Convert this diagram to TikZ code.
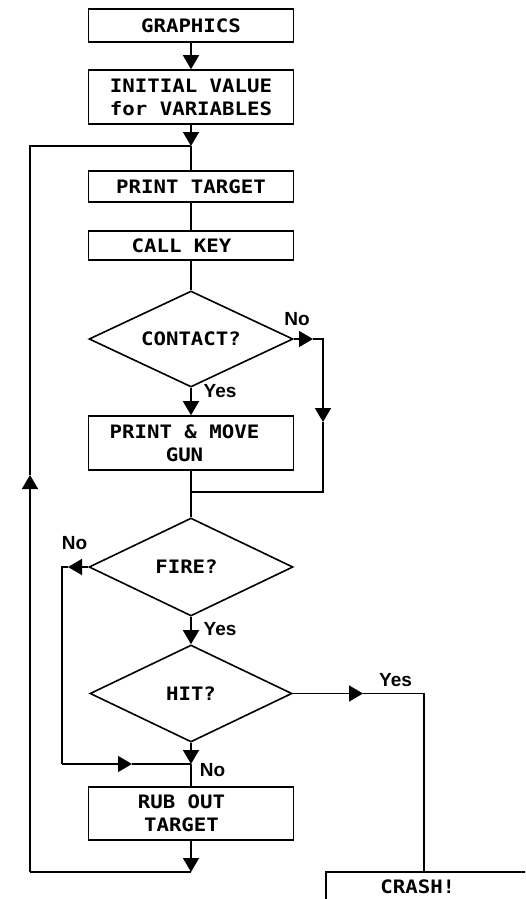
\documentclass[tikz,border=0pt]{standalone}
\usepackage{fontspec}
\usetikzlibrary{shapes.geometric, arrows.meta}
\newfontfamily\boxfont{DejaVu Sans Mono}[FakeStretch=1.12]
\newfontfamily\tagfont{Liberation Sans}
\newcommand\boxtext{\boxfont\bfseries\fontsize{18.5pt}{23pt}\selectfont}
\newcommand\tagtext{\tagfont\bfseries\fontsize{19pt}{22pt}\selectfont}

\tikzset{
  stepbox/.style={draw, rectangle, minimum width=205pt, inner sep=0pt,
                  font=\boxtext, align=center},
  choice/.style={draw, diamond, inner sep=0pt, aspect=2.1, font=\boxtext},
  tag/.style={inner sep=0pt, font=\tagtext},
}

\begin{document}
\begin{tikzpicture}[x=1pt, y=-1pt, line width=1.6pt,
    >={Triangle[width=16pt,length=14pt]}]
  \useasboundingbox (0,0) rectangle (525,899);
  \clip (0,0) rectangle (525,899);

  % main column
  \node[stepbox, minimum height=33pt] (graphics) at (191,25.5) {GRAPHICS};
  \node[stepbox, minimum height=54pt] (init) at (191,97) {INITIAL VALUE\\for VARIABLES};
  \coordinate (loopin) at (191,146);
  \node[stepbox, minimum height=31pt] (target) at (191,186.5) {PRINT TARGET};
  \node[stepbox, minimum height=29pt] (key) at (191,245.5) {CALL KEY\hspace*{19pt}};
  \node[choice, minimum width=204pt, minimum height=96pt] (contact) at (191,339) {CONTACT?};
  \node[stepbox, minimum height=54pt] (gun) at (191,443) {PRINT \& MOVE\hspace*{13pt}\\GUN\hspace*{13pt}};
  \coordinate (merge) at (191,492);
  \node[choice, minimum width=204pt, minimum height=98pt] (fire) at (191,567) {FIRE?\hspace*{9pt}};
  \node[choice, minimum width=202pt, minimum height=97pt] (hit) at (191,693.5) {HIT?};
  \coordinate (rejoin) at (191,764);
  \node[stepbox, minimum height=53pt] (rub) at (191,813.5) {RUB OUT\hspace*{19pt}\\TARGET\hspace*{19pt}};
  \coordinate (loopout) at (191,872);
  \node[stepbox, anchor=north west, minimum width=230pt, inner ysep=8pt] (crash) at (325,871) {CRASH!\hspace*{46pt}};

  % bends of the side branches
  \coordinate (noTip) at (313,339);
  \coordinate (noCorner) at (323,339);
  \coordinate (downTip) at (323,422);
  \coordinate (mergeRight) at (323,492);
  \coordinate (fireTip) at (68,567);
  \coordinate (fireCorner) at (62,567);
  \coordinate (rejoinLeft) at (62,764);
  \coordinate (rejoinTip) at (132,764);
  \coordinate (hitTip) at (363,693.5);
  \coordinate (hitCorner) at (424,693.5);
  \coordinate (loopLeft) at (30,872);
  \coordinate (upTip) at (30,475);
  \coordinate (loopTop) at (30,146);

  % straight flow
  \draw[->] (graphics) -- (init);
  \draw[->] (init) -- (loopin);
  \draw (loopin) -- (target);
  \draw (target) -- (key);
  \draw (key) -- (contact);
  \draw[->] (contact) -- (gun);
  \draw (gun) -- (fire);
  \draw[->] (fire) -- (hit);
  \draw[->] (hit) -- (rejoin);
  \draw (rejoin) -- (rub);
  \draw[->] (rub) -- (loopout);

  % CONTACT? no-branch
  \draw[->] (contact.east) -- (noTip);
  \draw[->] (noTip) -- (noCorner) -- (downTip);
  \draw (downTip) -- (mergeRight) -- (merge);

  % FIRE? no-branch
  \draw[->] (fire.west) -- (fireTip);
  \draw (fireTip) -- (fireCorner) -- (rejoinLeft);
  \draw[->] (rejoinLeft) -- (rejoinTip);
  \draw (rejoinTip) -- (rejoin);

  % HIT? yes-branch
  \draw[->] (hit.east) -- (hitTip);
  \draw (hitTip) -- (hitCorner) -- (crash.north west -| hitCorner);

  % main loop back to the top
  \draw (loopout) -- (loopLeft);
  \draw[->] (loopLeft) -- (upTip);
  \draw (upTip) -- (loopTop) -- (loopin);

  % branch labels
  \node[tag] (contactNo) at (297,319) {No};
  \node[tag] (contactYes) at (220,391.5) {Yes};
  \node[tag] (fireNo) at (74.5,543.5) {No};
  \node[tag] (fireYes) at (220,629) {Yes};
  \node[tag] (hitYes) at (395.5,680) {Yes};
  \node[tag] (hitNo) at (212.5,770.5) {No};
\end{tikzpicture}
\end{document}
